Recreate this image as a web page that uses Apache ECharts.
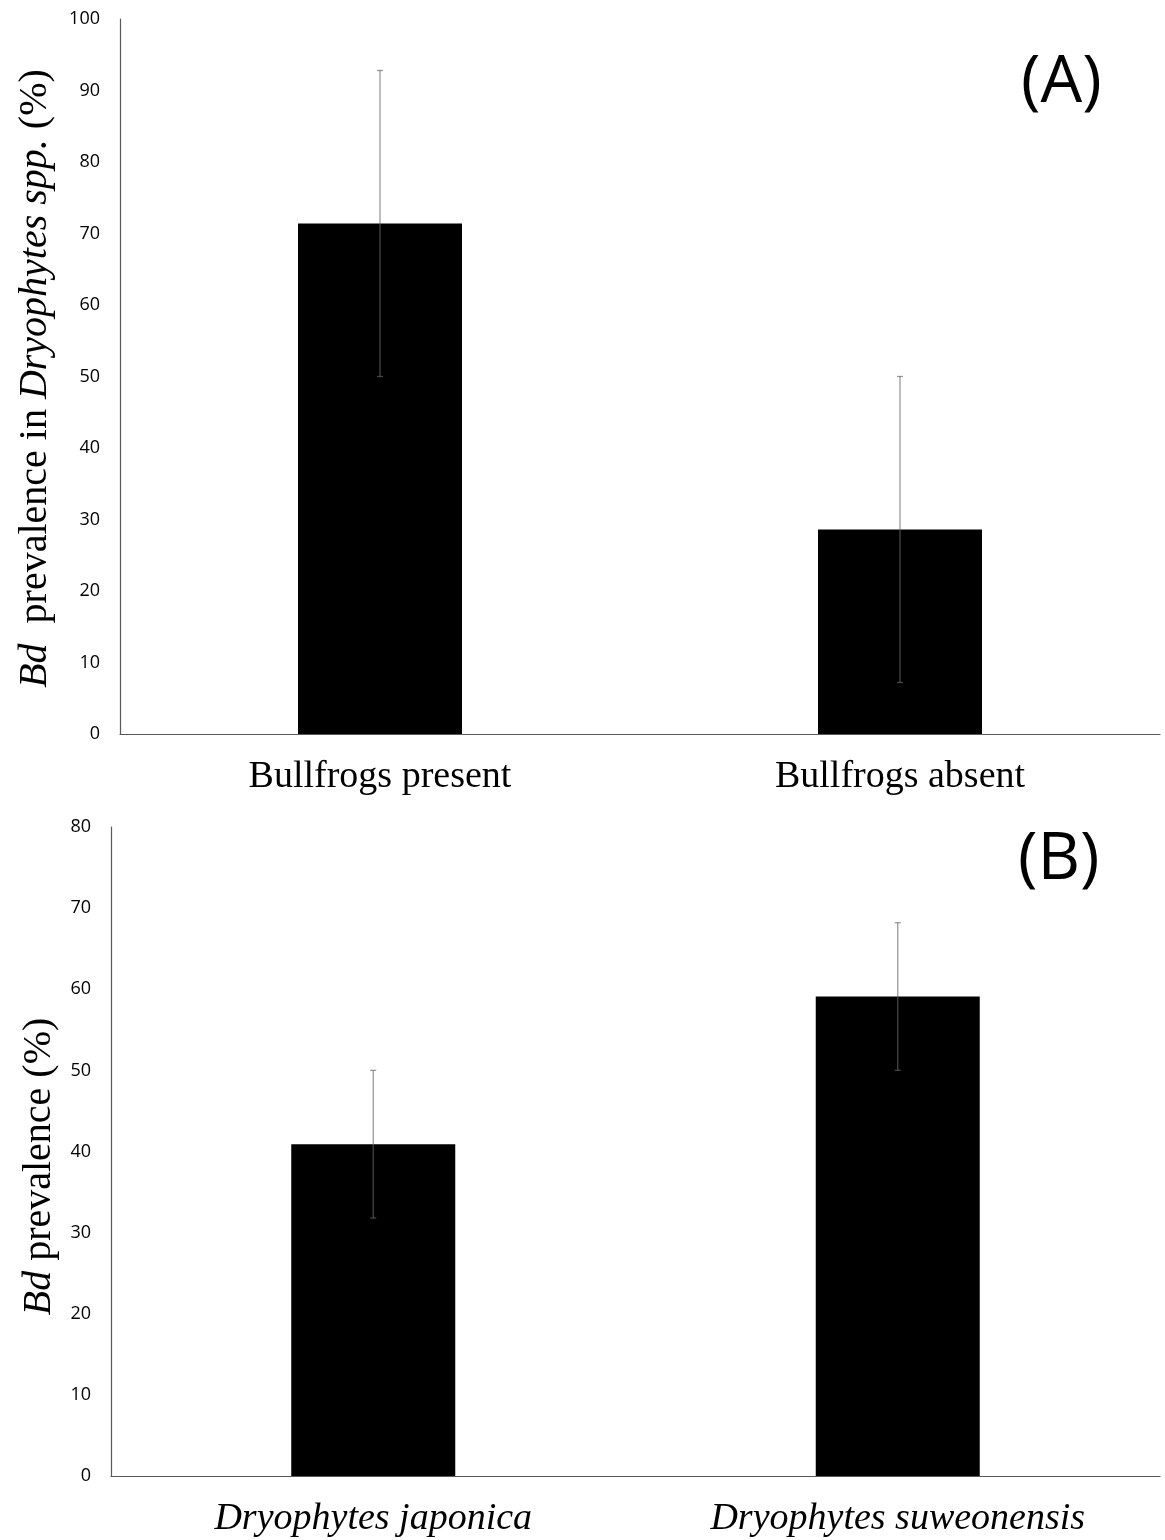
<!DOCTYPE html>
<html>
<head>
<meta charset="utf-8">
<script src="https://cdn.jsdelivr.net/npm/echarts@6/dist/echarts.min.js"></script>
<style>
html,body{margin:0;padding:0;background:#fff;}
#main{width:1165px;height:1540px;}
</style>
</head>
<body>
<div id="main"></div>
<script>
// Panel A
const catsA = ['Bullfrogs present', 'Bullfrogs absent'];
const valsA = [71.4, 28.6];
const errLowA = [50.0, 7.2];
const errHighA = [92.8, 50.0];
const ticksA = {min: 0, max: 100, interval: 10};

// Panel B
const catsB = ['Dryophytes japonica', 'Dryophytes suweonensis'];
const valsB = [40.9, 59.1];
const errLowB = [31.8, 50.0];
const errHighB = [50.0, 68.2];
const ticksB = {min: 0, max: 80, interval: 10};

const errColor = 'rgba(102,102,102,0.67)';

function errRender(params, api) {
  const x = api.value(0);
  const lo = api.coord([x, api.value(1)]);
  const hi = api.coord([x, api.value(2)]);
  const hw = 3;
  const st = {stroke: errColor, lineWidth: 1.3};
  return {
    type: 'group',
    children: [
      {type: 'line', shape: {x1: lo[0], y1: lo[1], x2: hi[0], y2: hi[1]}, style: st},
      {type: 'line', shape: {x1: lo[0] - hw, y1: lo[1], x2: lo[0] + hw, y2: lo[1]}, style: st},
      {type: 'line', shape: {x1: hi[0] - hw, y1: hi[1], x2: hi[0] + hw, y2: hi[1]}, style: st}
    ]
  };
}

const yLabel = {fontFamily: 'Open Sans', fontSize: 18, color: '#000', margin: 20};
const axisLine = {show: true, lineStyle: {color: '#595959', width: 1.2}};
function nameStyle(pad) {
  return {
    fontFamily: 'Liberation Serif', fontSize: 40, color: '#000', padding: pad,
    rich: {i: {fontFamily: 'Liberation Serif', fontStyle: 'italic', fontSize: 40, color: '#000'}}
  };
}

const chart = echarts.init(document.getElementById('main'), null, {renderer: 'canvas'});
chart.setOption({
  backgroundColor: '#fff',
  animation: false,
  grid: [
    {left: 120, top: 19, width: 1040, height: 715},
    {left: 111, top: 827, width: 1049, height: 649}
  ],
  xAxis: [
    {
      type: 'category', gridIndex: 0, data: catsA,
      axisLine: axisLine, axisTick: {show: false},
      axisLabel: {fontFamily: 'Liberation Serif', fontSize: 38, color: '#000', margin: 24}
    },
    {
      type: 'category', gridIndex: 1, data: catsB,
      axisLine: axisLine, axisTick: {show: false},
      axisLabel: {fontFamily: 'Liberation Serif', fontStyle: 'italic', fontSize: 38, color: '#000', margin: 24}
    }
  ],
  yAxis: [
    {
      type: 'value', gridIndex: 0, min: ticksA.min, max: ticksA.max, interval: ticksA.interval,
      axisLine: axisLine, axisTick: {show: false}, splitLine: {show: false},
      axisLabel: yLabel,
      name: '{i|Bd}  prevalence in {i|Dryophytes spp.} (%)',
      nameLocation: 'middle', nameRotate: 90, nameGap: 65,
      nameTextStyle: nameStyle([0, 4, 0, 0])
    },
    {
      type: 'value', gridIndex: 1, min: ticksB.min, max: ticksB.max, interval: ticksB.interval,
      axisLine: axisLine, axisTick: {show: false}, splitLine: {show: false},
      axisLabel: yLabel,
      name: '{i|Bd} prevalence (%)',
      nameLocation: 'middle', nameRotate: 90, nameGap: 52,
      nameTextStyle: nameStyle([0, 30, 0, 0])
    }
  ],
  graphic: [
    {type: 'text', x: 1021, y: 83, style: {text: '(A)', font: '66px "Open Sans"', fill: '#000', verticalAlign: 'middle'}},
    {type: 'text', x: 1018, y: 860, style: {text: '(B)', font: '66px "Open Sans"', fill: '#000', verticalAlign: 'middle'}}
  ],
  series: [
    {
      type: 'bar', xAxisIndex: 0, yAxisIndex: 0, data: valsA, barWidth: 164,
      itemStyle: {color: '#000'}
    },
    {
      type: 'custom', xAxisIndex: 0, yAxisIndex: 0, renderItem: errRender,
      encode: {x: 0, y: [1, 2]},
      data: catsA.map((c, i) => [i, errLowA[i], errHighA[i]]), z: 10
    },
    {
      type: 'bar', xAxisIndex: 1, yAxisIndex: 1, data: valsB, barWidth: 164,
      itemStyle: {color: '#000'}
    },
    {
      type: 'custom', xAxisIndex: 1, yAxisIndex: 1, renderItem: errRender,
      encode: {x: 0, y: [1, 2]},
      data: catsB.map((c, i) => [i, errLowB[i], errHighB[i]]), z: 10
    }
  ]
});
</script>
</body>
</html>
